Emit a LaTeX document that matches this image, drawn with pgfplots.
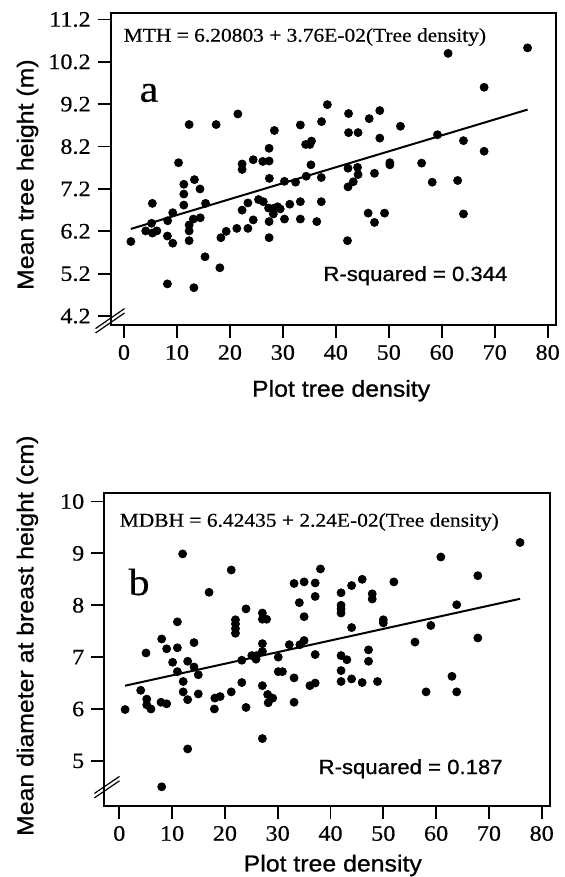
\documentclass[border=0pt]{standalone}
\usepackage{pgfplots}
\usepackage{pgfplotstable}
\pgfplotsset{compat=1.18}
\usepackage{fontspec}
\setmainfont{Liberation Serif}[FakeStretch=1.1, FakeBold=0.5]
\newfontfamily\arial{Liberation Sans}[FakeStretch=1.08, FakeBold=0.9]

\pgfplotstableread{
x y
1.3 5.96
4.1 6.21
5.2 6.39
5.35 6.16
6.2 6.21
5.35 6.86
8.2 4.96
8.2 6.09
8.25 6.45
9.2 5.92
9.2 6.64
10.3 7.82
11.3 7.31
11.3 7.08
11.3 6.82
12.3 8.72
12.3 6.35
12.3 6.21
12.3 5.98
13.2 4.87
13.3 7.42
13.1 6.49
14.35 7.20
14.4 6.52
15.4 6.86
15.3 5.60
17.4 8.72
18.1 5.34
18.3 6.05
19.3 6.20
21.5 8.97
21.3 6.27
22.3 7.79
22.3 7.66
22.3 6.70
23.4 6.87
23.4 6.27
24.4 7.89
24.4 6.47
25.4 6.95
26.2 7.85
26.3 6.90
27.4 8.16
27.4 7.86
27.45 7.45
27.3 6.75
27.4 6.43
27.4 6.05
28.4 8.58
28.2 6.74
29.0 6.78
29.5 6.73
28.2 6.61
30.3 7.38
30.3 6.49
31.3 6.84
32.4 7.36
33.3 8.71
33.3 6.90
33.3 6.49
34.3 8.25
35.1 8.25
35.4 8.33
34.4 7.50
35.3 7.77
36.4 6.43
37.3 8.79
37.25 7.47
37.25 6.90
38.4 9.19
42.4 8.98
42.4 8.53
44.2 8.53
46.3 8.86
48.3 9.05
48.3 8.40
52.2 8.68
42.3 7.69
44.1 7.71
44.2 7.54
43.3 7.37
42.3 7.25
47.3 7.57
50.2 7.82
50.2 7.77
42.2 5.98
46.1 6.63
47.3 6.41
49.2 6.63
56.2 7.81
58.2 7.36
59.2 8.48
61.2 10.40
63.0 7.40
64.1 8.34
64.1 6.61
68.0 9.60
68.0 8.09
76.2 10.53
}\dataA

\pgfplotstableread{
x y
1.1 5.99
4.05 6.36
5.06 7.08
5.2 6.19
5.2 6.08
6.0 6.00
8.03 7.35
8.97 7.16
7.9 6.13
8.97 6.10
8.03 4.50
10.1 6.90
11.0 7.68
11.0 7.18
11.0 6.72
12.0 8.99
12.1 6.53
12.1 6.33
12.95 6.92
12.95 6.18
12.95 5.23
14.15 7.28
14.15 6.81
14.96 6.66
14.96 6.29
17.0 8.25
18.0 6.00
18.1 6.21
19.1 6.24
21.2 8.68
21.2 6.33
22.0 7.72
22.0 7.64
22.0 7.55
22.0 7.46
23.2 6.94
23.2 6.51
24.0 7.93
24.0 6.03
25.1 7.03
25.9 6.96
26.0 7.03
27.1 7.85
27.1 7.73
27.9 7.73
27.1 7.26
27.1 7.11
27.1 6.45
27.1 5.43
28.1 6.28
29.05 6.21
28.2 6.12
30.1 7.00
30.1 6.72
30.9 6.72
32.2 7.24
33.1 6.60
33.1 6.13
33.1 8.42
35.0 8.45
37.1 8.43
34.1 8.05
35.0 7.78
37.1 8.17
34.2 7.24
35.0 7.32
37.1 7.05
36.1 6.45
37.1 6.50
38.1 8.70
42.0 8.24
42.0 8.00
42.0 7.93
42.0 7.85
44.0 8.38
46.0 8.50
47.9 8.22
47.9 8.12
52.0 8.45
44.0 7.57
50.0 7.72
50.0 7.66
47.2 7.14
47.2 6.92
42.0 7.03
43.1 6.95
42.0 6.74
42.0 6.53
44.0 6.58
46.0 6.51
48.9 6.53
56.0 7.29
58.1 6.33
59.0 7.61
60.9 8.93
63.0 6.63
63.9 8.01
63.9 6.33
67.9 8.57
67.9 7.37
75.9 9.21
}\dataB

\begin{document}
\begin{tikzpicture}
\useasboundingbox (0,0) rectangle (282.5pt,438.5pt);
\pgfplotsset{
  myax/.style={
    scale only axis,
    anchor=south west,
    tick align=outside,
    xtick pos=left, ytick pos=left,
    major tick length=6.5pt,
    axis line style={line width=0.9pt},
    tick style={line width=0.9pt, black},
    xtick={0,10,20,30,40,50,60,70,80},
    minor tick num=0,
    /pgf/number format/assume math mode=true,
    tick label style={font=\fontsize{11}{13}\selectfont},
    label style={font=\arial\fontsize{11.5}{13}\selectfont},
    clip=false,
  },
  dots/.style={only marks, mark=*, mark size=2pt, black},
  fit/.style={black, line width=1pt, no marks},
}
% Panel a
\begin{axis}[myax, at={(55.35pt,276pt)}, width=222.65pt, height=156.15pt,
  xmin=-2.51, xmax=81.57, ymin=3.99, ymax=11.36,
  ytick={4.2,5.2,6.2,7.2,8.2,9.2,10.2,11.2},
  yticklabels={4.2,5.2,6.2,7.2,8.2,9.2,10.2,11.2},
  xlabel={Plot tree density}, ylabel={Mean tree height (m)},
  xlabel style={at={(axis description cs:0.3016,-0.2296)}, anchor=base west},
  ylabel style={at={(axis description cs:-0.1734,0.0897)}, anchor=base west},
]
\addplot[dots] table[x=x,y=y] {\dataA};
\addplot[fit] coordinates {(1.3,6.2569) (76.2,9.0732)};
\node[anchor=base west, font=\fontsize{9.75}{11}\selectfont, inner sep=0pt] at (axis description cs:0.0283,0.9071) {MTH = 6.20803 + 3.76E-02(Tree density)};
\node[anchor=base west, font=\fontsize{19}{22}\selectfont, inner sep=0pt] at (axis description cs:0.0642,0.715) {a};
\node[anchor=base west, font=\arial\fontsize{10.25}{12}\selectfont, inner sep=0pt] at (axis description cs:0.4768,0.1409) {R-squared = 0.344};
\end{axis}
% Panel b
\begin{axis}[myax, at={(52.15pt,35.5pt)}, width=222.85pt, height=156.65pt,
  xmin=-2.84, xmax=81.57, ymin=4.13, ymax=10.17,
  ytick={5,6,7,8,9,10},
  xlabel={Plot tree density}, ylabel={Mean diameter at breast height (cm)},
  xlabel style={at={(axis description cs:0.297,-0.209)}, anchor=base west},
  ylabel style={at={(axis description cs:-0.1593,-0.118)}, anchor=base west},
]
\addplot[dots] table[x=x,y=y] {\dataB};
\addplot[fit] coordinates {(1.1,6.4490) (75.9,8.1245)};
\node[anchor=base west, font=\fontsize{9.75}{11}\selectfont, inner sep=0pt] at (axis description cs:0.0337,0.8915) {MDBH = 6.42435 + 2.24E-02(Tree density)};
\node[anchor=base west, font=\fontsize{19}{22}\selectfont, inner sep=0pt] at (axis description cs:0.0538,0.6735) {b};
\node[anchor=base west, font=\arial\fontsize{10.25}{12}\selectfont, inner sep=0pt] at (axis description cs:0.480,0.102) {R-squared = 0.187};
\end{axis}
% axis break marks
\draw[line width=0.6pt] (47.75pt,274.2pt) -- (62.25pt,284.2pt);
\draw[line width=0.6pt] (47.75pt,272.0pt) -- (62.25pt,282.0pt);
\draw[line width=0.6pt] (47.25pt,41.8pt) -- (59.75pt,50.3pt);
\draw[line width=0.6pt] (47.25pt,39.6pt) -- (59.75pt,48.1pt);
\end{tikzpicture}
\end{document}
